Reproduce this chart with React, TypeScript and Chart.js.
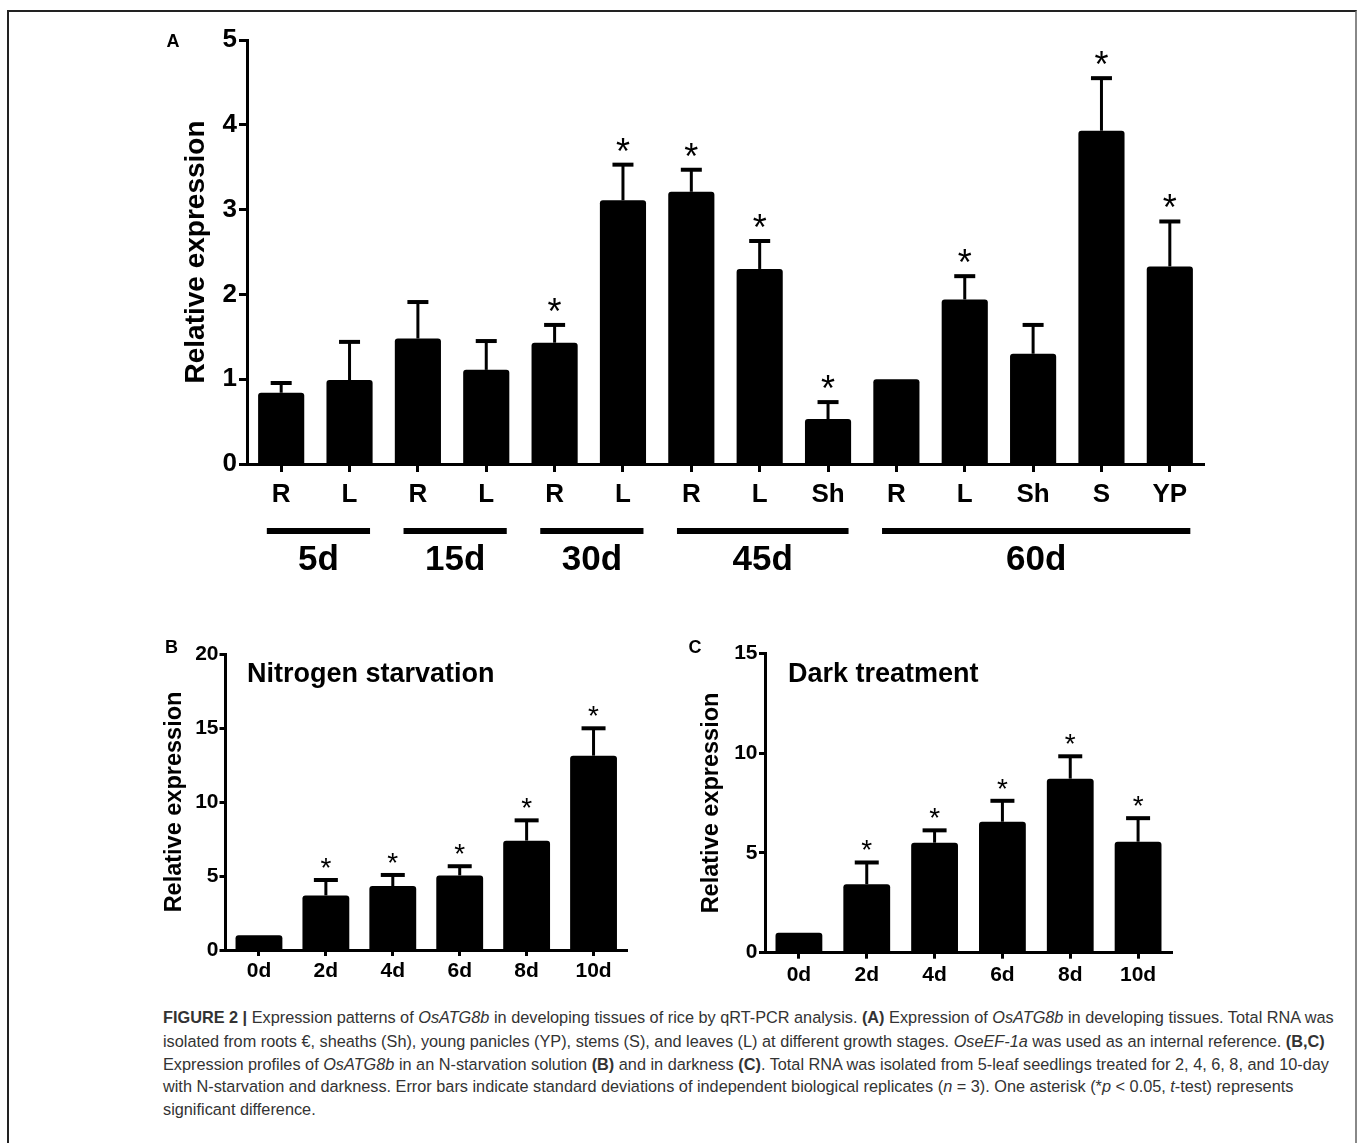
import React, { useEffect, useRef } from 'react';
import { Chart, registerables } from 'chart.js';

Chart.register(...registerables);

const FONT = "'Liberation Sans', Arial, Helvetica, sans-serif";
Chart.defaults.font.family = FONT;

// ---------- Panel A : developing tissues ----------
const tissueLabels = ['R', 'L', 'R', 'L', 'R', 'L', 'R', 'L', 'Sh', 'R', 'L', 'Sh', 'S', 'YP'];
const tissueValues = [0.84, 0.99, 1.48, 1.11, 1.43, 3.11, 3.21, 2.3, 0.53, 1.0, 1.94, 1.3, 3.93, 2.33];
const tissueSD = [0.115, 0.45, 0.43, 0.34, 0.21, 0.42, 0.26, 0.33, 0.2, 0, 0.275, 0.34, 0.62, 0.53];
const tissueSig = [false, false, false, false, true, true, true, true, true, false, true, false, true, true];
const tissueTicks = [0, 1, 2, 3, 4, 5];
const stageLabels = ['5d', '15d', '30d', '45d', '60d'];
const stageFirst = [0, 2, 4, 6, 9];
const stageLast = [1, 3, 5, 8, 13];

// ---------- Panel B : nitrogen starvation ----------
const dayLabels = ['0d', '2d', '4d', '6d', '8d', '10d'];
const nitrogenValues = [1.0, 3.69, 4.32, 5.04, 7.39, 13.13];
const nitrogenSD = [0, 1.04, 0.75, 0.62, 1.37, 1.85];
const nitrogenSig = [false, true, true, true, true, true];
const nitrogenTicks = [0, 5, 10, 15, 20];

// ---------- Panel C : dark treatment ----------
const darkValues = [1.0, 3.43, 5.51, 6.56, 8.72, 5.56];
const darkSD = [0, 1.09, 0.62, 1.05, 1.12, 1.18];
const darkSig = [false, true, true, true, true, true];
const darkTicks = [0, 5, 10, 15];

type Panel = {
  id: string;
  left: number;
  top: number;
  width: number;
  height: number;
  labels: string[];
  values: number[];
  sd: number[];
  sig: boolean[];
  ticks: number[];
  pad: { left: number; right: number; top: number; bottom: number };
  yWidth: number;
  xHeight: number;
  barPct: number;
  yTickFont: number;
  xTickFont: number;
  yTickPad: number;
  xTickPad: number;
  tickLen: number;
  titleFont: number;
  titlePad: number;
  capHalf: number;
  starSize: number;
  starGap: number;
  letter: string;
  letterX: number;
  letterY: number;
  heading?: string;
  headingX?: number;
  headingY?: number;
  groups?: boolean;
};

const panels: Panel[] = [
  {
    id: 'A', left: 0, top: 0, width: 1357, height: 620,
    labels: tissueLabels, values: tissueValues, sd: tissueSD, sig: tissueSig, ticks: tissueTicks,
    pad: { left: 0, right: 153, top: 40, bottom: 0 }, yWidth: 247, xHeight: 156, barPct: 0.675,
    yTickFont: 26, xTickFont: 26, yTickPad: 2, xTickPad: 7, tickLen: 8,
    titleFont: 28, titlePad: 179, capHalf: 10.5, starSize: 36, starGap: 19,
    letter: 'A', letterX: 173, letterY: 42, groups: true,
  },
  {
    id: 'B', left: 0, top: 620, width: 680, height: 380,
    labels: dayLabels, values: nitrogenValues, sd: nitrogenSD, sig: nitrogenSig, ticks: nitrogenTicks,
    pad: { left: 0, right: 53, top: 34, bottom: 0 }, yWidth: 225.5, xHeight: 50, barPct: 0.7,
    yTickFont: 21, xTickFont: 21, yTickPad: 1, xTickPad: 3, tickLen: 6,
    titleFont: 23.5, titlePad: 160, capHalf: 12, starSize: 28, starGap: 17,
    letter: 'B', letterX: 171.5, letterY: 28,
    heading: 'Nitrogen starvation', headingX: 247, headingY: 62,
  },
  {
    id: 'C', left: 680, top: 620, width: 677, height: 380,
    labels: dayLabels, values: darkValues, sd: darkSD, sig: darkSig, ticks: darkTicks,
    pad: { left: 0, right: 185, top: 33.3, bottom: 0 }, yWidth: 85, xHeight: 47.3, barPct: 0.69,
    yTickFont: 21, xTickFont: 21, yTickPad: 1.5, xTickPad: 3.7, tickLen: 6,
    titleFont: 23.5, titlePad: 17, capHalf: 12, starSize: 28, starGap: 17,
    letter: 'C', letterX: 15, letterY: 28,
    heading: 'Dark treatment', headingX: 108, headingY: 62,
  },
];

function extrasPlugin(p: Panel) {
  return {
    id: 'extras' + p.id,
    afterDatasetsDraw(chart: any) {
      const { ctx } = chart;
      const xs = chart.scales.x;
      const ys = chart.scales.y;
      ctx.save();
      ctx.strokeStyle = '#000';
      ctx.fillStyle = '#000';
      ctx.lineCap = 'butt';
      p.values.forEach((v, i) => {
        const x = xs.getPixelForValue(i);
        const yTop = ys.getPixelForValue(v);
        let capY = yTop;
        if (p.sd[i] > 0) {
          capY = ys.getPixelForValue(v + p.sd[i]);
          ctx.lineWidth = 3;
          ctx.beginPath();
          ctx.moveTo(x, yTop);
          ctx.lineTo(x, capY);
          ctx.stroke();
          ctx.lineWidth = 4;
          ctx.beginPath();
          ctx.moveTo(x - p.capHalf, capY);
          ctx.lineTo(x + p.capHalf, capY);
          ctx.stroke();
        }
        if (p.sig[i]) {
          ctx.font = `normal ${p.starSize}px ${FONT}`;
          ctx.textAlign = 'center';
          ctx.textBaseline = 'middle';
          ctx.fillText('*', x, capY - p.starGap + 0.225 * p.starSize);
        }
      });
      ctx.restore();
    },
    afterDraw(chart: any) {
      const { ctx } = chart;
      const xs = chart.scales.x;
      ctx.save();
      ctx.fillStyle = '#000';
      ctx.strokeStyle = '#000';
      ctx.font = `bold 18px ${FONT}`;
      ctx.textAlign = 'center';
      ctx.textBaseline = 'middle';
      ctx.fillText(p.letter, p.letterX, p.letterY);
      if (p.heading) {
        ctx.font = `bold 27px ${FONT}`;
        ctx.textAlign = 'left';
        ctx.textBaseline = 'alphabetic';
        ctx.fillText(p.heading, p.headingX, p.headingY);
      }
      if (p.groups) {
        const cw = xs.width / p.labels.length;
        stageLabels.forEach((lab, g) => {
          const x1 = xs.getPixelForValue(stageFirst[g]) - 0.21 * cw;
          const x2 = xs.getPixelForValue(stageLast[g]) + 0.3 * cw;
          ctx.lineWidth = 6;
          ctx.beginPath();
          ctx.moveTo(x1, 531);
          ctx.lineTo(x2, 531);
          ctx.stroke();
          ctx.font = `bold 35px ${FONT}`;
          ctx.textAlign = 'center';
          ctx.textBaseline = 'middle';
          ctx.fillText(lab, (x1 + x2) / 2, 560);
        });
      }
      ctx.restore();
    },
  };
}

function buildConfig(p: Panel): any {
  const axisGrid = {
    display: true,
    drawOnChartArea: false,
    drawTicks: true,
    tickLength: p.tickLen,
    tickWidth: 3,
    tickColor: '#000',
    offset: false,
  };
  return {
    type: 'bar',
    data: {
      labels: p.labels,
      datasets: [
        {
          data: p.values,
          backgroundColor: '#000',
          borderColor: '#000',
          borderWidth: 0,
          borderRadius: 3,
          barPercentage: p.barPct,
          categoryPercentage: 1,
        },
      ],
    },
    options: {
      responsive: false,
      animation: false,
      maintainAspectRatio: false,
      layout: { padding: p.pad },
      plugins: { legend: { display: false }, tooltip: { enabled: false }, title: { display: false } },
      scales: {
        x: {
          type: 'category',
          offset: true,
          grid: axisGrid,
          border: { display: true, width: 3, color: '#000' },
          ticks: {
            color: '#000',
            font: { size: p.xTickFont, weight: 'bold', family: FONT },
            padding: p.xTickPad,
            maxRotation: 0,
            autoSkip: false,
          },
          afterFit: (s: any) => {
            s.height = p.xHeight;
          },
        },
        y: {
          min: p.ticks[0],
          max: p.ticks[p.ticks.length - 1],
          grid: axisGrid,
          border: { display: true, width: 3, color: '#000' },
          ticks: {
            color: '#000',
            stepSize: p.ticks[1] - p.ticks[0],
            font: { size: p.yTickFont, weight: 'bold', family: FONT },
            padding: p.yTickPad,
          },
          title: {
            display: true,
            text: 'Relative expression',
            color: '#000',
            font: { size: p.titleFont, weight: 'bold', family: FONT },
            padding: { top: p.titlePad, bottom: 0 },
          },
          afterFit: (s: any) => {
            s.width = p.yWidth;
          },
        },
      },
    },
    plugins: [extrasPlugin(p)],
  };
}

function BarPanel({ p }: { p: Panel }) {
  const ref = useRef<HTMLCanvasElement>(null);
  useEffect(() => {
    const chart = new Chart(ref.current as HTMLCanvasElement, buildConfig(p));
    return () => chart.destroy();
  }, []);
  return (
    <canvas
      ref={ref}
      width={p.width}
      height={p.height}
      style={{ position: 'absolute', left: p.left, top: p.top, width: p.width, height: p.height }}
    />
  );
}

const lineStyle: React.CSSProperties = {
  position: 'absolute',
  left: 163,
  whiteSpace: 'nowrap',
  height: 23,
  lineHeight: '23px',
};

export default function App() {
  return (
    <div
      style={{
        position: 'absolute',
        left: 0,
        top: 0,
        width: 1357,
        height: 1143,
        overflow: 'hidden',
        background: '#fff',
        fontFamily: FONT,
      }}
    >
      <div
        style={{
          position: 'absolute',
          left: 7,
          top: 10,
          width: 1346,
          height: 1160,
          borderTop: '2px solid #222',
          borderLeft: '2px solid #222',
          borderRight: '2px solid #888',
        }}
      />
      {panels.map((p) => (
        <BarPanel key={p.id} p={p} />
      ))}
      <div style={{ color: '#333', fontSize: 16.3 }}>
        <div style={{ ...lineStyle, top: 1006 }}>
          <b>FIGURE 2 |</b> Expression patterns of <i>OsATG8b</i> in developing tissues of rice by qRT-PCR analysis. <b>(A)</b> Expression of <i>OsATG8b</i> in developing tissues. Total RNA was
        </div>
        <div style={{ ...lineStyle, top: 1030 }}>
          isolated from roots €, sheaths (Sh), young panicles (YP), stems (S), and leaves (L) at different growth stages. <i>OseEF-1a</i> was used as an internal reference. <b>(B,C)</b>
        </div>
        <div style={{ ...lineStyle, top: 1052.5 }}>
          Expression profiles of <i>OsATG8b</i> in an N-starvation solution <b>(B)</b> and in darkness <b>(C)</b>. Total RNA was isolated from 5-leaf seedlings treated for 2, 4, 6, 8, and 10-day
        </div>
        <div style={{ ...lineStyle, top: 1075 }}>
          with N-starvation and darkness. Error bars indicate standard deviations of independent biological replicates (<i>n</i> = 3). One asterisk (*<i>p</i> &lt; 0.05, <i>t</i>-test) represents
        </div>
        <div style={{ ...lineStyle, top: 1097.5 }}>significant difference.</div>
      </div>
    </div>
  );
}
